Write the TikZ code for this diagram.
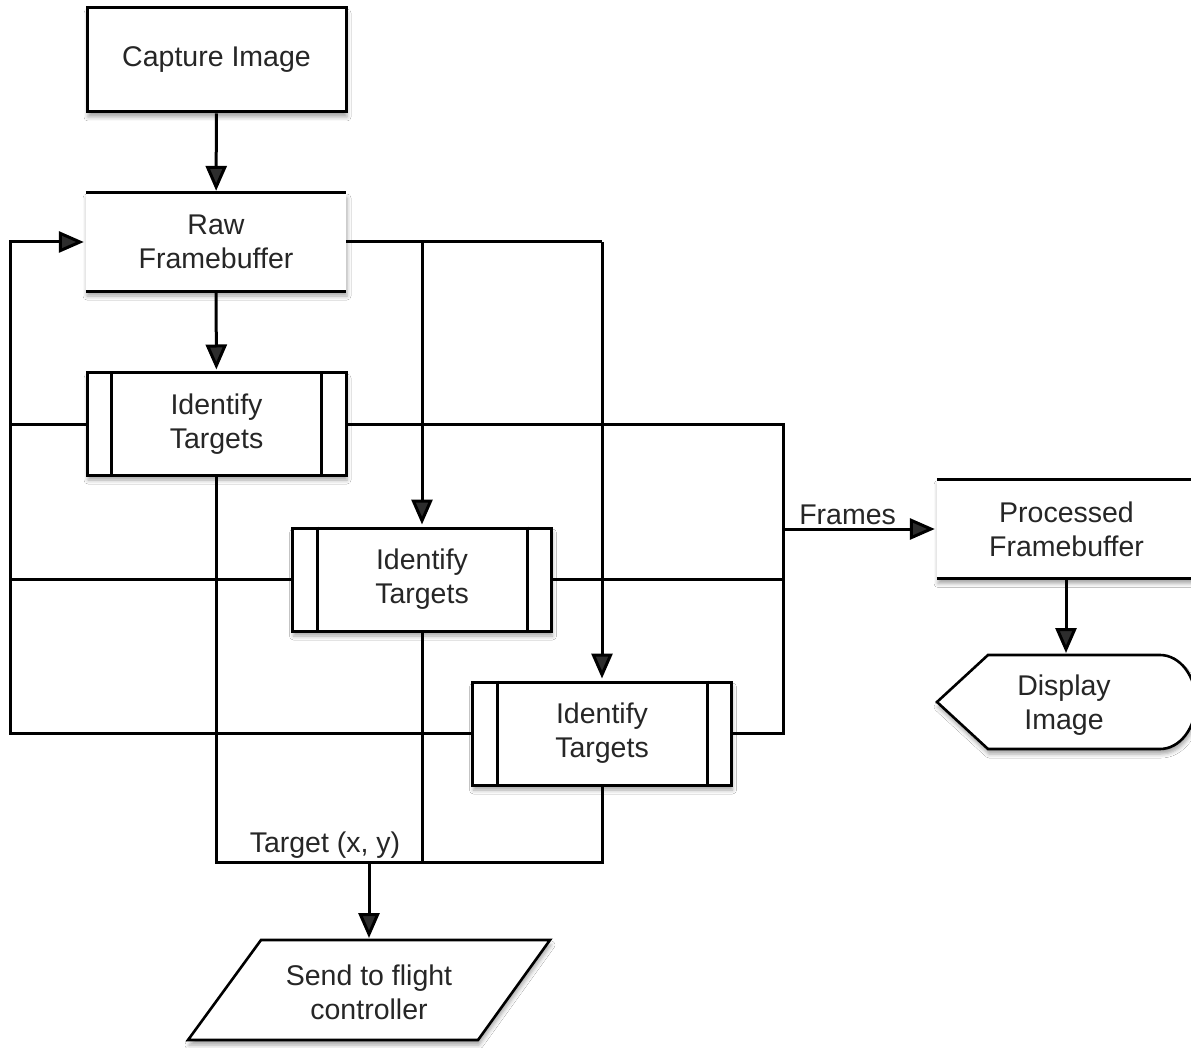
\documentclass[tikz,border=0pt]{standalone}
\usepackage{fontspec}
\setmainfont{Liberation Sans}
\usetikzlibrary{arrows.meta,calc,shadows.blur}

\tikzset{
  lw/.style={line width=3pt},
  txt/.style={align=center, text=black!85, font=\fontsize{28.5}{34}\selectfont, inner sep=0pt},
  shade/.style={blur shadow={shadow xshift=1pt, shadow yshift=-5pt, shadow blur radius=4pt, shadow opacity=35}},
  procbox/.style={txt, lw, draw, fill=white, shade, minimum width=259pt, minimum height=103pt},
  storebox/.style={txt, fill=white, shade, minimum width=259pt, minimum height=99pt},
  conn/.style={lw},
  arr/.style={lw, -{Triangle[length=25pt,width=21pt]}, shorten >=2pt},
  lbl/.style={txt, inner sep=3pt}
}

\begin{document}
\begin{tikzpicture}[x=1pt,y=-1pt]
  \path[use as bounding box] (0,0) rectangle (1191,1048);
  \fill[white] (0,0) rectangle (1191,1048);
  \clip (0,0) rectangle (1191,1048);

  % process boxes
  \node[procbox, minimum height=104pt] (cap) at (216.5,60) {Capture Image};

  % raw framebuffer (data store: top and bottom rules only)
  \node[storebox, minimum width=260pt, minimum height=98pt] (raw) at (216,242) {Raw\\Framebuffer};
  \draw[lw] (raw.north west) -- (raw.north east);
  \draw[lw] (raw.south west) -- (raw.south east);

  % predefined-process boxes
  \node[procbox, minimum height=102pt] (it1) at (216.5,424) {Identify\\Targets};
  \node[procbox] (it2) at (422,579.5) {Identify\\Targets};
  \node[procbox] (it3) at (602,733.5) {Identify\\Targets};
  \foreach \n in {it1,it2,it3}{
    \draw[lw] ([xshift=26pt]\n.north west) -- ([xshift=26pt]\n.south west);
    \draw[lw] ([xshift=-26pt]\n.north east) -- ([xshift=-26pt]\n.south east);
  }

  % processed framebuffer (data store)
  \node[storebox] (pf) at (1066.5,529) {Processed\\Framebuffer};
  \draw[lw] (pf.north west) -- (pf.north east);
  \draw[lw] (pf.south west) -- (pf.south east);

  % display shape
  \draw[lw, line width=2.6pt, fill=white, shade] (937,702) -- (988,655) -- (1160,655)
     arc[start angle=-90, end angle=90, x radius=36, y radius=47] -- (988,749) -- cycle;
  \node[txt] (disp) at (1064,705) {Display\\Image};
  \coordinate (disptop) at (1066,655);

  % input/output parallelogram
  \node[txt] (send) at (369,992) {Send to flight\\controller};
  \draw[lw, line width=2.6pt, fill=white, shade] ($(send)+(-108,-52)$) -- ($(send)+(181,-52)$)
     -- ($(send)+(109,48)$) -- ($(send)+(-181,48)$) -- cycle;
  \node[txt] at (send) {Send to flight\\controller};
  \coordinate (sendtop) at (369,940);

  % main flow
  \draw[arr] (cap) -- (raw);
  \draw[arr] (raw) -- (it1);

  % fan-out from the raw framebuffer
  \coordinate (rj) at (it3.north |- raw.east);
  \draw[conn] (raw.east) -- (rj);
  \draw[arr] (it2.north |- raw.east) -- (it2.north);
  \draw[arr] (rj) -- (it3.north);

  % feedback loop on the left
  \coordinate (L) at (10,733.5);
  \draw[arr] (it3.west) -- (L) |- (raw.west);
  \draw[conn] (it1.west) -- (it1.west -| L);
  \draw[conn] (it2.west) -- (it2.west -| L);

  % frames collected on the right
  \coordinate (R) at (783,733.5);
  \draw[conn] (it1.east) -| (R) -- (it3.east);
  \draw[conn] (it2.east) -- (it2.east -| R);
  \draw[arr] (R |- pf.west) -- node[lbl, above, pos=0.42] {Frames} (pf.west);
  \draw[arr] (pf.south -| disptop) -- (disptop);

  % target coordinates collected at the bottom
  \coordinate (B) at (602,862);
  \draw[conn] (it1.south) |- (B) -- (it3.south);
  \draw[conn] (it2.south) -- (it2.south |- B);
  \node[lbl, above] at (325,862) {Target (x, y)};
  \draw[arr] (sendtop |- B) -- (sendtop);
\end{tikzpicture}
\end{document}
